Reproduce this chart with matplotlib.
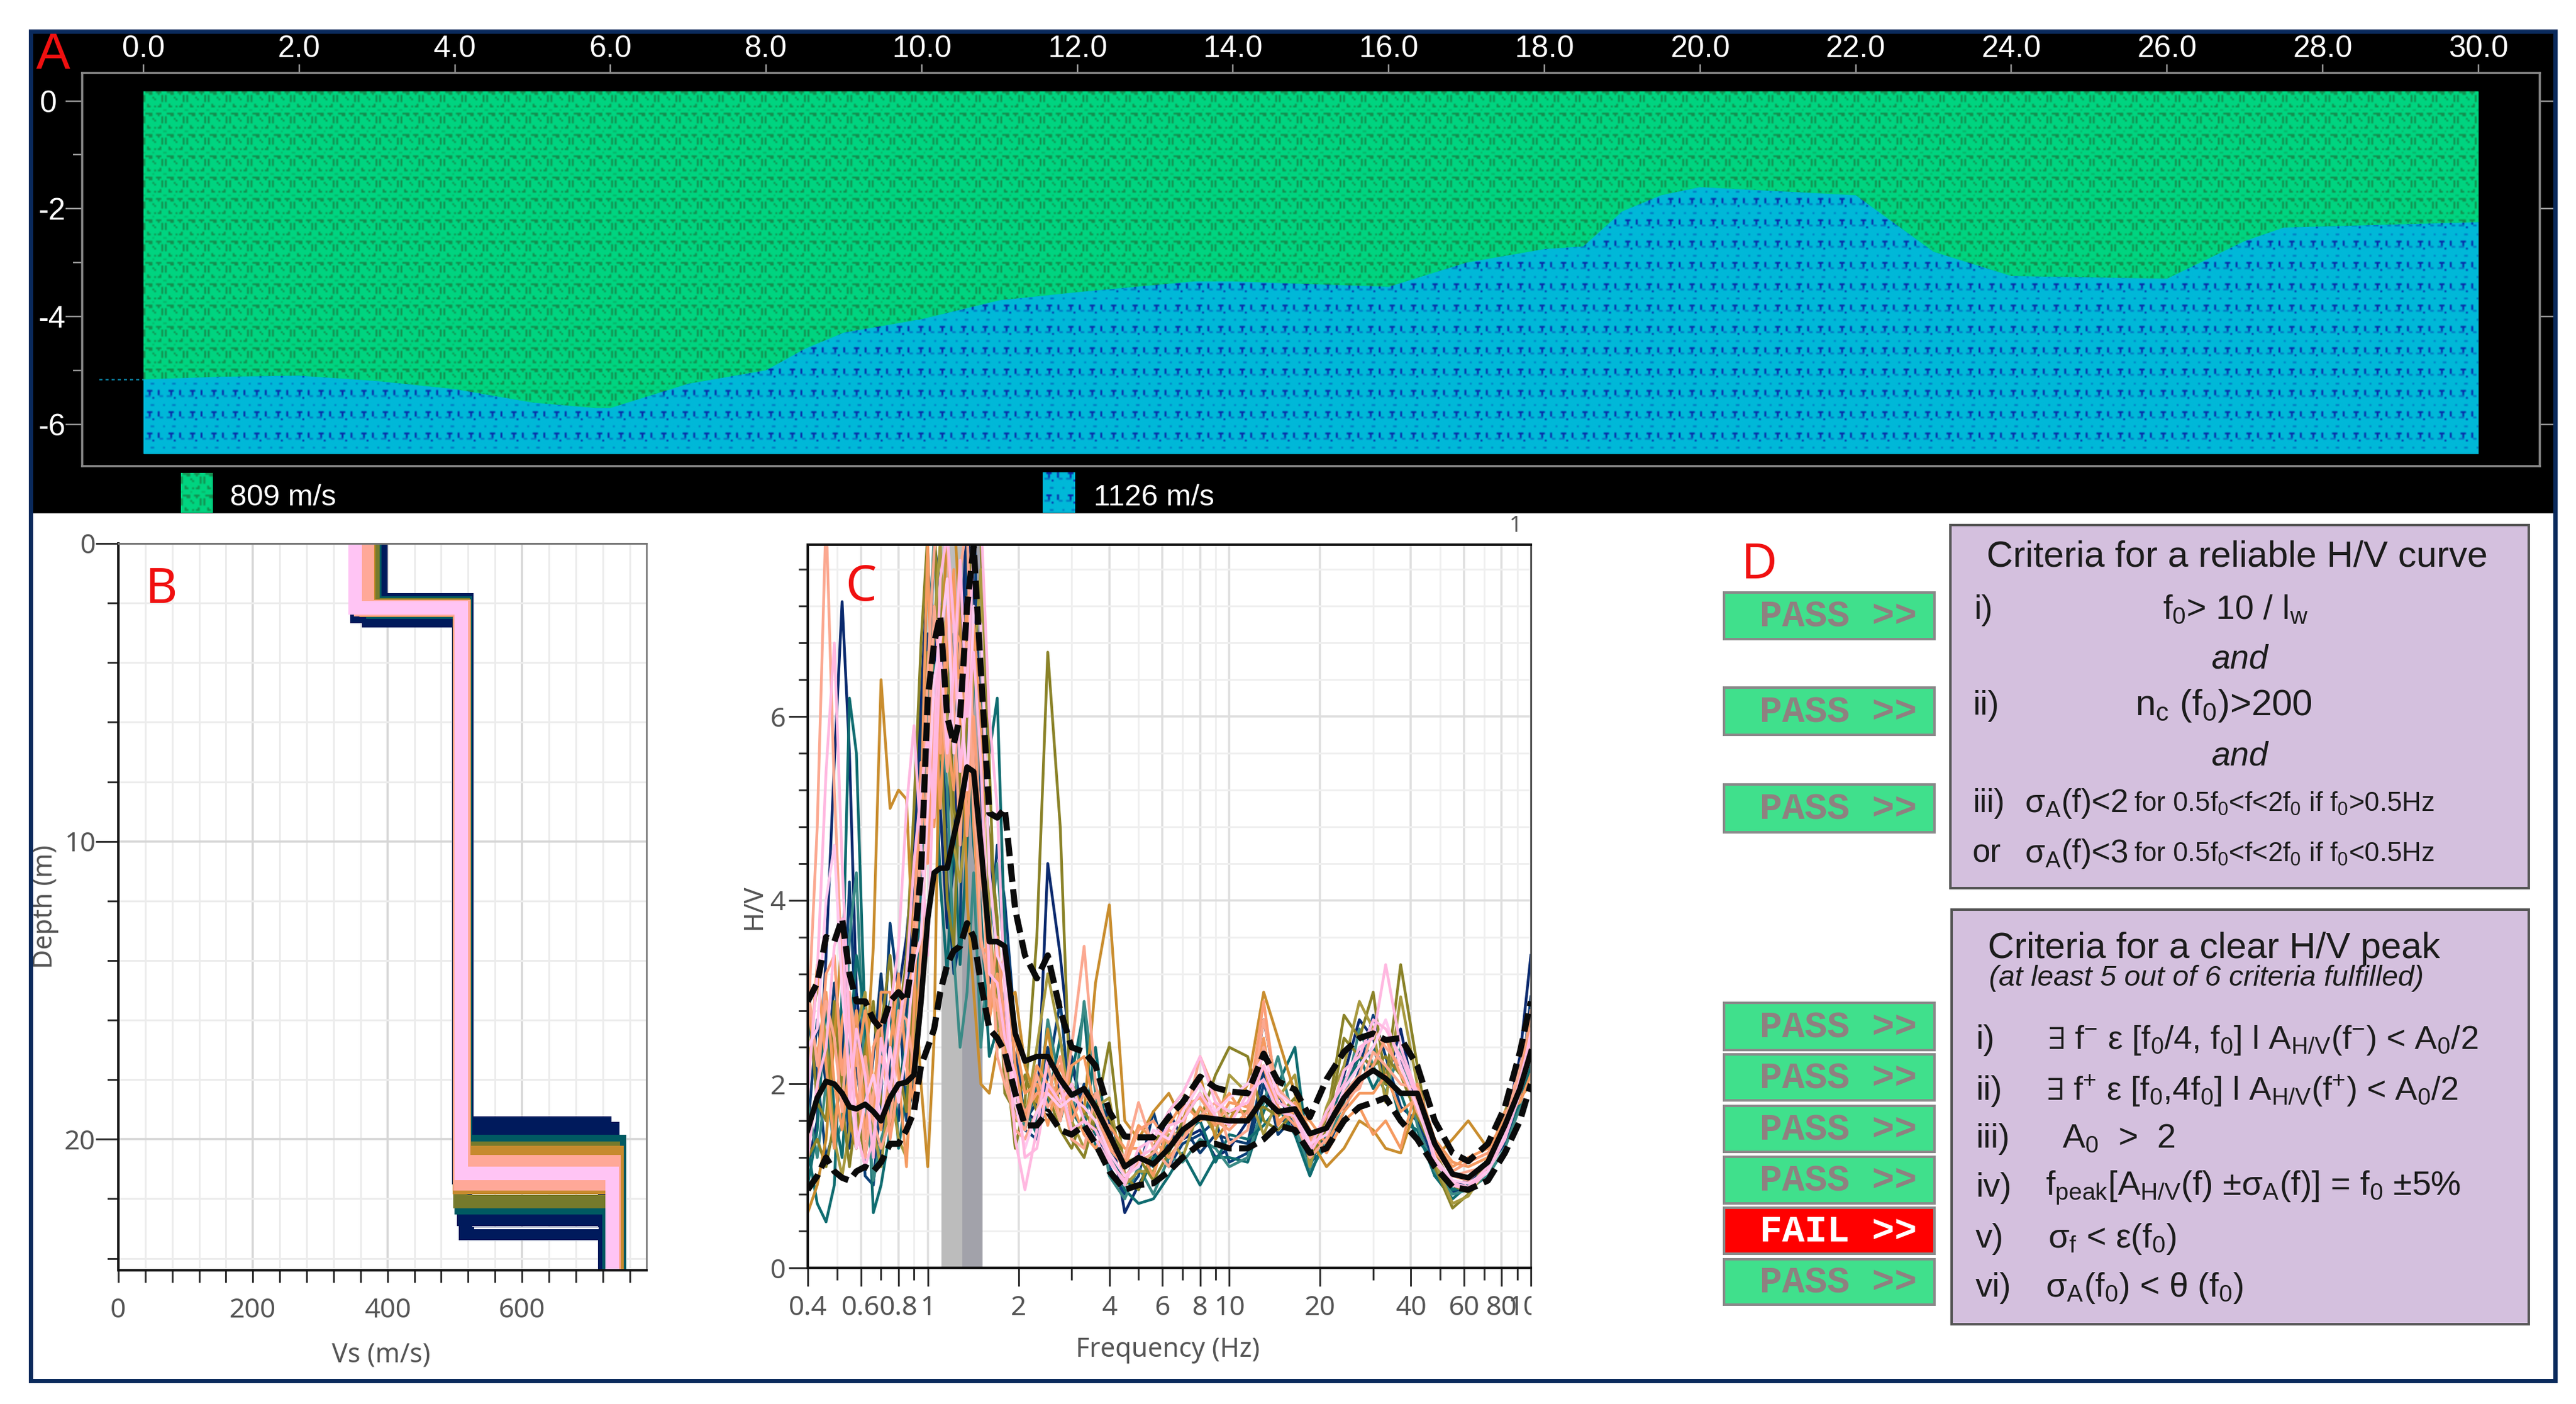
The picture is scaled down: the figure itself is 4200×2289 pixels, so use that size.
import numpy as np
import matplotlib.pyplot as plt
from matplotlib.colors import LinearSegmentedColormap
from matplotlib.patches import Rectangle
from matplotlib.ticker import NullFormatter
from matplotlib.transforms import Bbox

W, H = 4200, 2289

plt.rcParams["font.family"] = ["Liberation Sans", "DejaVu Sans"]
plt.rcParams["mathtext.fontset"] = "dejavusans"
plt.rcParams["mathtext.default"] = "regular"

# ----------------------------------------------------------------------------
# Panel A: seismic section
dist = [0, 1, 2, 3, 4, 5, 5.8, 6, 7, 8, 8.5, 9, 10, 11, 12, 13.5, 14, 16, 17, 18, 18.5,
        19, 19.5, 20, 22, 23, 24, 26, 27, 27.5, 30]
boundary = [-5.17, -5.12, -5.1, -5.2, -5.35, -5.6, -5.7, -5.7, -5.25, -5.0, -4.6, -4.3, -4.05,
            -3.7, -3.55, -3.35, -3.35, -3.45, -3.0, -2.75, -2.7, -2.05, -1.75, -1.6, -1.75,
            -2.8, -3.25, -3.3, -2.6, -2.35, -2.25]
model_top = 0.18
model_bottom = -6.55
water_x = [-0.57, 0.0]
water_y = [-5.17, -5.17]
section_xticks = [0, 2, 4, 6, 8, 10, 12, 14, 16, 18, 20, 22, 24, 26, 28, 30]
section_yticks = [0, -2, -4, -6]
section_minor = [-1, -3, -5]
layer_labels = ["809 m/s", "1126 m/s"]

# Panel B: Vs profiles, one row per model, colour index into profile_colors
vs_top = [390, 385, 370, 355, 372, 381, 378, 378, 372, 372, 368, 370, 360, 352]
vs_mid = [518, 517, 506, 513, 516, 516, 510, 512, 508, 514, 507, 513, 508, 510]
vs_bot = [723, 735, 740, 723, 723, 745, 729, 736, 736, 741, 741, 737, 737, 734]
depth_a = [1.90, 2.60, 2.35, 2.45, 2.60, 2.00, 2.30, 2.05, 2.25, 2.10, 2.25, 2.13, 2.22, 2.17]
depth_b = [19.45, 19.65, 21.3, 22.7, 23.16, 20.07, 22.3, 20.3, 22.1, 20.45, 21.63, 20.75, 21.5, 21.14]
profile_color = [0, 0, 0, 0, 0, 1, 1, 2, 2, 3, 3, 4, 4, 5]
profile_colors = ["#001a5c", "#005a62", "#767a2c", "#c68a2e", "#ffa898", "#ffc4f4"]
gap_vs = [530, 712]
gap_depth = [22.98, 22.98]

# Panel C: H/V curves
freq = [0.40, 0.43, 0.46, 0.49, 0.52, 0.55, 0.58, 0.62, 0.66, 0.70, 0.75, 0.80,
        0.85, 0.90, 0.95, 1.00, 1.05, 1.10, 1.16, 1.22, 1.28, 1.35, 1.42, 1.50,
        1.60, 1.70, 1.80, 1.95, 2.10, 2.30, 2.50, 2.75, 3.00, 3.30, 3.60, 4.00,
        4.50, 5.00, 5.60, 6.30, 7.00, 8.00, 9.00, 10.0, 11.5, 13.0, 14.5, 16.5,
        18.5, 21.0, 24.0, 27.0, 30.0, 33.0, 37.0, 42.0, 48.0, 55.0, 62.0, 72.0,
        82.0, 92.0, 100.0]

hv_mean = [1.50, 1.85, 2.03, 2.00, 1.90, 1.75, 1.73, 1.78, 1.70, 1.60, 1.85, 2.00,
           2.02, 2.10, 2.90, 3.80, 4.30, 4.35, 4.35, 4.70, 5.00, 5.45, 5.40, 4.60,
           3.55, 3.55, 3.50, 2.55, 2.25, 2.30, 2.30, 2.05, 1.88, 1.95, 1.75, 1.45,
           1.10, 1.20, 1.13, 1.30, 1.50, 1.64, 1.62, 1.60, 1.60, 1.85, 1.70, 1.73,
           1.46, 1.52, 1.85, 2.05, 2.15, 2.06, 1.90, 1.90, 1.35, 1.02, 0.98, 1.15,
           1.55, 1.95, 2.35]
hv_upper = [2.90, 3.10, 3.60, 3.55, 3.80, 3.20, 2.90, 2.90, 2.70, 2.60, 2.90, 3.00,
            2.90, 3.50, 4.30, 6.20, 6.80, 7.10, 6.00, 5.70, 6.00, 7.20, 7.85, 6.50,
            4.95, 4.90, 5.00, 3.90, 3.40, 3.15, 3.40, 2.80, 2.40, 2.35, 2.20, 1.70,
            1.43, 1.42, 1.42, 1.64, 1.80, 2.08, 1.96, 1.92, 1.90, 2.33, 2.03, 1.94,
            1.64, 2.05, 2.35, 2.50, 2.55, 2.48, 2.50, 2.20, 1.60, 1.25, 1.16, 1.35,
            1.75, 2.35, 2.90]
hv_lower = [0.85, 1.00, 1.20, 1.05, 0.98, 0.95, 1.05, 1.10, 1.05, 1.15, 1.35, 1.35,
            1.50, 1.70, 2.20, 2.40, 2.60, 3.00, 3.30, 3.45, 3.50, 3.75, 3.60, 3.10,
            2.60, 2.50, 2.35, 1.90, 1.55, 1.55, 1.70, 1.50, 1.45, 1.55, 1.35, 1.05,
            0.85, 0.90, 0.92, 1.05, 1.20, 1.35, 1.35, 1.30, 1.30, 1.40, 1.55, 1.50,
            1.25, 1.30, 1.60, 1.75, 1.80, 1.85, 1.60, 1.40, 1.10, 0.88, 0.85, 0.95,
            1.25, 1.60, 2.00]

win_navy1 = [1.10, 1.60, 3.40, 5.50, 7.25, 5.60, 3.00, 2.10, 1.40, 1.20, 2.30, 3.00,
             3.60, 4.50, 6.20, 7.60, 7.00, 5.00, 3.70, 4.40, 6.50, 8.20, 7.40, 6.00,
             4.60, 3.20, 2.80, 2.10, 1.70, 1.60, 4.40, 3.40, 2.20, 1.70, 1.90, 1.60,
             0.60, 0.90, 1.20, 1.70, 1.40, 1.50, 1.20, 1.30, 1.60, 2.70, 1.90, 1.50,
             1.20, 1.50, 2.10, 2.70, 2.50, 2.00, 2.60, 1.70, 1.10, 0.90, 0.95, 1.15,
             1.50, 2.30, 3.40]
win_navy2 = [2.70, 2.10, 1.20, 1.50, 2.20, 4.20, 2.50, 1.00, 0.90, 1.90, 3.75, 3.00,
             1.60, 2.00, 3.80, 6.00, 7.90, 7.40, 4.20, 3.20, 3.60, 7.90, 8.40, 5.20,
             3.50, 4.60, 4.00, 2.60, 1.50, 1.40, 2.10, 2.90, 1.60, 2.00, 1.55, 1.10,
             0.80, 1.00, 1.70, 1.10, 1.35, 1.45, 1.60, 1.15, 1.25, 2.00, 1.60, 1.60,
             1.15, 1.30, 1.70, 2.15, 2.75, 2.30, 1.75, 1.60, 1.00, 0.85, 0.95, 1.10,
             1.35, 1.85, 2.95]
win_navy3 = [1.50, 2.70, 2.00, 3.10, 2.50, 1.30, 2.20, 1.50, 2.30, 3.20, 2.10, 1.60,
             2.80, 4.10, 5.80, 6.90, 5.20, 6.00, 4.80, 5.90, 7.40, 6.30, 5.60, 4.90,
             3.10, 3.40, 2.70, 2.30, 1.60, 1.80, 2.40, 1.90, 2.30, 1.60, 1.45, 1.75,
             0.95, 1.25, 1.10, 1.35, 1.55, 1.25, 1.45, 1.40, 1.35, 2.15, 1.45, 1.65,
             1.30, 1.40, 2.00, 2.35, 2.15, 2.05, 2.25, 1.65, 1.15, 0.82, 0.90, 1.12,
             1.45, 1.95, 2.65]
win_teal1 = [1.30, 0.70, 0.50, 0.90, 3.00, 6.20, 5.60, 2.60, 0.60, 0.90, 1.50, 1.90,
             2.50, 3.60, 5.00, 7.80, 6.00, 4.20, 3.20, 4.80, 3.30, 4.60, 6.40, 6.20,
             5.60, 6.20, 3.60, 1.70, 1.50, 2.00, 2.20, 1.60, 2.10, 2.80, 1.30, 1.30,
             0.85, 0.70, 0.75, 1.00, 1.25, 0.90, 1.20, 1.20, 1.15, 1.70, 2.00, 2.40,
             1.10, 1.55, 1.90, 2.30, 1.95, 2.20, 1.60, 1.50, 1.00, 0.75, 0.90, 1.05,
             1.40, 1.90, 2.60]
win_teal2 = [1.80, 1.20, 2.00, 1.30, 1.60, 3.60, 4.30, 1.90, 0.95, 1.40, 1.70, 3.10,
             2.60, 2.30, 4.40, 6.30, 8.00, 6.10, 5.20, 3.40, 2.40, 3.00, 4.30, 2.40,
             3.60, 4.40, 3.30, 1.90, 1.55, 1.60, 2.70, 2.00, 1.50, 2.90, 1.90, 1.00,
             0.75, 1.10, 0.80, 1.20, 1.15, 1.40, 1.30, 1.10, 1.20, 1.80, 2.30, 1.55,
             1.05, 1.35, 1.80, 2.60, 2.20, 1.90, 2.40, 1.55, 1.05, 0.80, 0.85, 1.00,
             1.30, 1.75, 2.40]
win_teal3 = [0.90, 1.50, 2.90, 1.70, 1.20, 2.40, 3.40, 2.80, 1.20, 2.20, 2.90, 1.30,
             1.90, 2.90, 4.00, 5.20, 6.60, 5.30, 6.10, 6.90, 5.00, 5.90, 4.60, 3.90,
             2.30, 2.60, 3.00, 2.00, 1.75, 1.45, 1.80, 2.50, 1.70, 1.50, 2.40, 1.20,
             0.95, 0.85, 1.20, 1.30, 1.45, 1.60, 1.15, 1.45, 1.40, 1.55, 1.75, 1.45,
             1.00, 1.45, 2.05, 2.20, 2.40, 2.00, 1.90, 1.40, 1.15, 0.85, 0.88, 1.10,
             1.45, 1.80, 2.20]
win_olive1 = [1.20, 1.40, 1.10, 1.60, 2.10, 1.70, 1.30, 2.40, 2.90, 1.80, 1.50, 2.60,
              3.40, 5.00, 6.80, 8.00, 8.30, 6.00, 4.00, 3.50, 5.40, 7.00, 8.20, 7.90,
              5.50, 3.00, 2.40, 1.30, 1.80, 3.60, 6.70, 4.80, 1.40, 1.20, 1.65, 2.45,
              1.00, 0.85, 1.30, 1.70, 1.90, 1.60, 2.10, 2.40, 2.30, 1.60, 1.50, 1.70,
              1.30, 1.60, 2.75, 2.50, 3.00, 2.00, 3.30, 2.20, 1.10, 0.65, 0.80, 1.20,
              1.60, 2.00, 2.70]
win_olive2 = [2.20, 3.10, 2.50, 1.40, 1.00, 1.50, 2.60, 3.00, 1.50, 1.10, 2.00, 1.40,
              1.20, 2.50, 3.30, 5.50, 7.00, 7.90, 5.80, 4.60, 4.20, 5.00, 6.50, 7.60,
              3.90, 2.60, 2.50, 1.60, 1.60, 2.40, 3.20, 2.50, 1.60, 1.30, 1.75, 1.85,
              0.90, 1.05, 1.05, 1.45, 1.20, 1.75, 1.45, 2.10, 1.90, 1.45, 1.85, 2.10,
              1.10, 1.75, 2.20, 2.90, 2.60, 1.80, 2.95, 2.00, 1.15, 0.70, 0.78, 1.10,
              1.70, 2.10, 2.50]
win_olive3 = [3.00, 1.80, 1.60, 2.90, 1.80, 1.10, 1.70, 1.20, 1.90, 2.60, 3.40, 2.20,
              1.70, 3.10, 4.80, 6.70, 5.60, 7.20, 6.60, 5.00, 4.60, 6.00, 7.00, 5.40,
              4.70, 3.80, 1.90, 1.70, 2.10, 1.70, 1.90, 1.50, 1.30, 1.70, 1.50, 1.65,
              1.15, 1.20, 0.95, 1.25, 1.60, 1.90, 1.55, 1.70, 1.70, 1.75, 1.65, 1.85,
              1.20, 1.50, 2.50, 2.30, 2.20, 2.30, 2.10, 1.65, 1.25, 0.90, 0.82, 1.15,
              1.55, 1.90, 2.40]
win_orange1 = [0.60, 0.90, 1.40, 2.50, 3.60, 1.60, 1.30, 2.00, 3.50, 6.40, 5.00, 5.20,
               5.10, 3.30, 2.00, 1.10, 2.50, 6.50, 8.00, 8.30, 7.00, 4.00, 3.00, 2.00,
               1.90, 2.40, 2.90, 3.00, 2.20, 1.80, 2.60, 1.70, 2.00, 1.70, 3.10, 3.95,
               1.60, 1.40, 1.70, 1.90, 1.60, 2.10, 1.40, 1.60, 2.00, 3.00, 2.50, 1.90,
               1.40, 1.10, 1.30, 1.60, 1.50, 1.30, 1.25, 1.80, 1.20, 1.40, 1.60, 1.30,
               1.50, 1.85, 2.00]
win_orange2 = [2.80, 2.30, 3.00, 2.00, 1.50, 2.20, 2.80, 1.50, 1.70, 3.00, 3.00, 2.10,
               1.10, 2.80, 5.00, 7.90, 4.80, 6.20, 5.80, 5.20, 6.50, 5.10, 7.00, 6.00,
               2.70, 3.20, 2.30, 2.50, 1.90, 2.00, 1.55, 2.20, 1.80, 1.45, 1.30, 1.55,
               1.30, 1.30, 1.00, 1.55, 1.80, 1.60, 1.70, 1.90, 1.60, 2.50, 1.55, 1.80,
               1.50, 1.25, 1.60, 1.75, 1.45, 1.60, 1.30, 2.00, 1.40, 1.15, 1.10, 1.20,
               1.70, 1.80, 2.10]
win_orange3 = [1.90, 3.30, 2.20, 1.30, 2.70, 3.00, 2.20, 2.80, 2.00, 1.50, 2.40, 3.20,
               2.20, 1.80, 3.60, 4.90, 6.20, 5.00, 6.60, 7.60, 5.90, 7.30, 4.80, 3.50,
               3.40, 2.80, 3.50, 2.20, 1.60, 2.20, 2.00, 1.60, 2.20, 2.30, 1.70, 1.35,
               1.15, 1.55, 1.40, 1.20, 1.40, 1.75, 1.55, 1.80, 1.75, 2.20, 1.60, 1.70,
               1.60, 1.35, 1.70, 1.90, 1.90, 2.10, 1.70, 1.85, 1.35, 1.10, 1.20, 1.30,
               1.60, 1.95, 2.30]
win_salmon1 = [2.60, 4.80, 8.20, 5.20, 3.20, 2.00, 1.70, 2.30, 1.60, 1.30, 1.60, 2.40,
               3.00, 3.30, 4.60, 6.50, 7.80, 8.40, 8.00, 6.10, 7.60, 8.10, 5.50, 3.60,
               3.00, 2.90, 2.20, 1.50, 1.40, 1.70, 2.20, 1.60, 2.40, 3.50, 2.00, 1.40,
               1.20, 1.80, 1.30, 1.10, 1.50, 2.30, 1.90, 1.60, 1.60, 2.70, 1.90, 1.60,
               1.20, 1.40, 1.90, 2.10, 2.60, 2.40, 2.20, 1.70, 1.30, 1.00, 1.05, 1.10,
               1.60, 2.20, 2.60]
win_salmon2 = [1.40, 1.90, 3.20, 3.40, 2.10, 2.80, 1.90, 1.40, 2.40, 2.70, 1.40, 2.00,
               2.00, 3.80, 5.50, 4.40, 6.00, 5.60, 7.20, 7.00, 6.80, 4.70, 6.00, 4.70,
               2.80, 3.60, 2.60, 1.90, 1.70, 1.90, 1.90, 2.30, 1.60, 1.90, 1.70, 1.30,
               1.10, 1.50, 1.60, 1.35, 1.75, 1.85, 1.60, 1.50, 1.70, 2.90, 1.75, 1.55,
               1.40, 1.55, 1.75, 2.00, 2.20, 2.50, 2.10, 1.80, 1.25, 1.05, 1.15, 1.25,
               1.50, 2.00, 2.80]
win_salmon3 = [3.10, 2.20, 2.90, 2.50, 1.70, 3.00, 2.40, 1.20, 1.90, 2.30, 1.90, 2.80,
               2.70, 2.20, 3.10, 5.60, 7.20, 6.40, 5.40, 6.20, 4.60, 6.80, 5.00, 4.20,
               3.80, 2.30, 2.00, 1.65, 1.50, 2.10, 1.75, 1.95, 1.40, 1.30, 1.90, 1.50,
               1.00, 1.15, 1.25, 1.50, 1.40, 1.65, 1.80, 1.35, 1.50, 2.40, 1.95, 1.75,
               1.35, 1.65, 1.85, 1.95, 2.35, 2.20, 2.00, 1.95, 1.30, 1.00, 0.95, 1.15,
               1.55, 2.10, 2.45]
win_pink1 = [1.90, 3.20, 5.40, 6.80, 4.40, 2.60, 1.50, 1.10, 1.40, 2.00, 2.80, 3.50,
             5.00, 5.90, 4.60, 3.40, 5.60, 7.50, 8.00, 7.00, 5.40, 6.30, 7.90, 8.20,
             6.00, 5.00, 3.00, 1.40, 0.85, 1.50, 2.30, 2.00, 1.50, 1.60, 1.50, 1.20,
             0.90, 1.30, 1.40, 1.70, 1.90, 2.30, 1.80, 1.70, 1.80, 2.20, 1.80, 1.70,
             1.30, 1.70, 2.00, 2.40, 2.50, 3.30, 2.40, 1.90, 1.20, 0.90, 0.85, 1.05,
             1.40, 1.90, 2.30]
win_pink2 = [2.40, 2.60, 4.00, 4.60, 3.00, 2.10, 1.30, 1.80, 2.10, 1.60, 2.40, 1.80,
             2.40, 3.30, 3.60, 5.00, 6.40, 6.80, 7.50, 5.60, 6.40, 5.20, 7.20, 7.00,
             4.30, 3.40, 3.20, 1.80, 1.30, 1.70, 1.90, 1.75, 1.85, 1.75, 1.60, 1.25,
             1.00, 1.10, 1.50, 1.40, 1.70, 2.00, 1.70, 1.85, 2.00, 2.30, 1.90, 1.75,
             1.35, 1.45, 1.95, 2.20, 2.40, 2.70, 2.20, 1.75, 1.20, 0.95, 0.92, 1.05,
             1.45, 2.00, 2.55]
win_pink3 = [1.20, 2.00, 2.40, 3.50, 3.80, 1.80, 2.60, 2.10, 1.20, 2.50, 1.90, 2.60,
             3.20, 4.40, 5.20, 5.80, 4.90, 6.70, 5.60, 6.50, 7.70, 6.00, 6.70, 5.50,
             3.20, 3.10, 2.50, 2.10, 1.20, 1.30, 2.00, 1.80, 2.00, 1.60, 1.40, 1.15,
             0.95, 1.20, 1.30, 1.55, 1.60, 1.90, 1.65, 1.55, 1.90, 2.05, 1.70, 1.65,
             1.25, 1.55, 2.15, 2.30, 2.70, 2.60, 2.30, 1.85, 1.15, 0.92, 0.88, 1.10,
             1.40, 2.05, 2.50]

windows = [win_navy1, win_navy2, win_navy3, win_teal1, win_teal2, win_teal3,
           win_olive1, win_olive2, win_olive3, win_orange1, win_orange2, win_orange3,
           win_salmon1, win_salmon2, win_salmon3, win_pink1, win_pink2, win_pink3]
window_colors = ["#0a2a6e", "#0a3f78", "#0a3a70", "#0f6c70", "#3a8a86", "#0f6c70",
                 "#8a8228", "#a89a40", "#8a8228", "#c98d2e", "#f59a60", "#f59a60",
                 "#fba890", "#fb9e78", "#fba890", "#ffb8e0", "#ffc8ee", "#ffb8e0"]
peak_low = [1.11, 1.30]
peak_high = [1.30, 1.52]
peak_colors = ["#bcbcbc", "#a2a2aa"]
hv_major = [0.4, 0.6, 0.8, 1, 2, 4, 6, 8, 10, 20, 40, 60, 80, 100]
hv_major_labels = ["0.4", "0.6", "0.8", "1", "2", "4", "6", "8", "10", "20", "40", "60", "80", "100"]
hv_minor = [0.5, 0.7, 0.9, 3, 5, 7, 9, 30, 50, 70, 90]

# Panel D: pass/fail column
button_tops = [966, 1121, 1279, 1635, 1719, 1803, 1886, 1969, 2053]
button_bottoms = [1042, 1198, 1357, 1712, 1794, 1878, 1962, 2044, 2127]
button_status = ["PASS", "PASS", "PASS", "PASS", "PASS", "PASS", "PASS", "FAIL", "PASS"]

# Texture tiles for the section fill
green_tile = [".xxxx..xxx..",
              "...xx...x...",
              "x.........x.",
              "x....x....x.",
              "x.....x...x.",
              "x.........x.",
              "............",
              "..x......x..",
              "..xx..x.xx..",
              "............",
              "o....o.....o",
              "............"]
blue_tile = ["..xxx...x...",
             "...x....x...",
             "...x....x...",
             ".ooo.....oo.",
             ".....x......",
             "............",
             "............",
             "............",
             "....oo.....o",
             "............",
             "............",
             "............"]

# ----------------------------------------------------------------------------


def axes_px(left, top, right, bottom):
    return fig.add_axes([left / W, 1 - bottom / H, (right - left) / W, (bottom - top) / H])


def ftext(x, y, s, **kw):
    kw.setdefault("va", "center")
    return fig.text(x / W, 1 - y / H, s, **kw)


def frect(left, top, right, bottom, **kw):
    r = Rectangle((left / W, 1 - bottom / H), (right - left) / W, (bottom - top) / H,
                  transform=fig.transFigure, **kw)
    fig.add_artist(r)
    return r


def tile_array(tile, ny, nx):
    arr = np.array([[{".": 0.0, "o": 0.45, "x": 1.0}[c] for c in row] for row in tile])
    return np.tile(arr, (ny, nx))


def px(n):
    return n * 0.72


green_cmap = LinearSegmentedColormap.from_list("green", ["#00d480", "#148f50"])
blue_cmap = LinearSegmentedColormap.from_list("blue", ["#00b8d8", "#0a2aa8"])

fig = plt.figure(figsize=(W / 100, H / 100), dpi=100, facecolor="white")

frect(50, 50, 4165, 837, facecolor="black", edgecolor="none", zorder=-2)
frect(50, 51, 4166, 2251, facecolor="none", edgecolor="#0a2a5c", linewidth=px(7), zorder=6)

# ----------------------------------------------------------------------------
# A
ax_a = axes_px(134, 119, 4141, 760)
ax_a.set_facecolor("black")
poly_top = ax_a.fill_between(dist, boundary, model_top, color="#00d480", linewidth=0)
poly_bot = ax_a.fill_between(dist, model_bottom, boundary, color="#00b8d8", linewidth=0)
im = ax_a.imshow(tile_array(green_tile, 17, 109), extent=[0, 30, model_bottom, model_top],
                 aspect="auto", cmap=green_cmap, vmin=0, vmax=1, interpolation="bilinear", zorder=1.5)
im.set_clip_path(poly_top.get_paths()[0], transform=ax_a.transData)
im = ax_a.imshow(tile_array(blue_tile, 17, 109), extent=[0, 30, model_bottom, model_top],
                 aspect="auto", cmap=blue_cmap, vmin=0, vmax=1, interpolation="bilinear", zorder=1.5)
im.set_clip_path(poly_bot.get_paths()[0], transform=ax_a.transData)
ax_a.plot(water_x, water_y, color="#0a7a9a", linewidth=px(2.5), linestyle=(0, (2, 2)))
ax_a.set_xlim(-0.788, 30.79)
ax_a.set_ylim(-6.78, 0.52)
ax_a.xaxis.tick_top()
ax_a.set_xticks(section_xticks, [f"{v:.1f}" for v in section_xticks])
ax_a.set_yticks(section_yticks, ["0 ", "-2", "-4", "-6"])
ax_a.set_yticks(section_minor, minor=True)
ax_a.tick_params(axis="x", colors="#9a9a9a", labelcolor="white", labelsize=36, length=px(14),
                 width=px(2.5), pad=px(2))
ax_a.tick_params(axis="y", which="major", right=True, colors="#9a9a9a", labelcolor="white",
                 labelsize=36, length=px(27), width=px(2.5), pad=0)
ax_a.tick_params(axis="y", which="minor", colors="#9a9a9a", length=px(15), width=px(2.5))
for s in ax_a.spines.values():
    s.set_color("#8a8a8a")
    s.set_linewidth(px(3.5))

sw = axes_px(295, 771, 346, 836)
sw.imshow(tile_array(green_tile, 2, 2)[:22, :17], aspect="auto", cmap=green_cmap, vmin=0, vmax=1,
          interpolation="bilinear")
sw.axis("off")
sw = axes_px(1700, 770, 1753, 836)
sw.imshow(tile_array(blue_tile, 2, 2)[:22, :18], aspect="auto", cmap=blue_cmap, vmin=0, vmax=1,
          interpolation="bilinear")
sw.axis("off")
ftext(375, 811, layer_labels[0], color="white", fontsize=35)
ftext(1783, 811, layer_labels[1], color="white", fontsize=35)
ftext(87, 90, "A", color="#f01010", fontsize=60, ha="center")

# ----------------------------------------------------------------------------
# B
ax_b = axes_px(193, 886, 1054, 2071)
for i in range(len(vs_top)):
    ax_b.plot([vs_top[i], vs_top[i], vs_mid[i], vs_mid[i], vs_bot[i], vs_bot[i]],
              [0, depth_a[i], depth_a[i], depth_b[i], depth_b[i], 25],
              color=profile_colors[profile_color[i]], linewidth=px(22),
              solid_joinstyle="miter", solid_capstyle="butt")
ax_b.plot(gap_vs, gap_depth, color="white", linewidth=px(3))
ax_b.set_xlim(0, 785)
ax_b.set_ylim(24.4, 0)
ax_b.set_xticks([0, 200, 400, 600])
ax_b.set_xticks(np.arange(40, 785, 40), minor=True)
ax_b.set_yticks([0, 10, 20])
ax_b.set_yticks(np.arange(2, 25, 2), minor=True)
ax_b.grid(which="major", color="#d6d6d6", linewidth=px(3.5))
ax_b.grid(which="minor", color="#ececec", linewidth=px(3))
ax_b.set_axisbelow(True)
ax_b.tick_params(axis="x", which="both", length=px(20), width=px(3), color="#333333",
                 labelcolor="#555555", labelsize=32, pad=px(24))
ax_b.tick_params(axis="y", which="major", length=px(37), width=px(3), color="#333333",
                 labelcolor="#555555", labelsize=32, pad=0)
ax_b.tick_params(axis="y", which="minor", length=px(18), width=px(3), color="#333333")
for lab in ax_b.get_xticklabels() + ax_b.get_yticklabels():
    lab.set_family(["Noto Sans", "DejaVu Sans"])
ax_b.spines["left"].set_color("#111111")
ax_b.spines["bottom"].set_color("#111111")
ax_b.spines["left"].set_linewidth(px(4))
ax_b.spines["bottom"].set_linewidth(px(4))
ax_b.spines["top"].set_color("#777777")
ax_b.spines["right"].set_color("#888888")
ax_b.spines["top"].set_linewidth(px(3))
ax_b.spines["right"].set_linewidth(px(3))
ftext(74, 1478, "Depth (m)", rotation=90, ha="center", color="#555555", fontsize=31,
      family=["Noto Sans", "DejaVu Sans"])
ftext(621, 2210, "Vs (m/s)", ha="center", color="#555555", fontsize=31,
      family=["Noto Sans", "DejaVu Sans"])
ftext(262, 962, "B", color="#f01010", fontsize=58, ha="center", family=["Noto Sans", "DejaVu Sans"])

# ----------------------------------------------------------------------------
# C
ax_c = axes_px(1317, 888, 2496, 2067)
ax_c.set_xscale("log")
for lo, hi, c in zip(peak_low, peak_high, peak_colors):
    ax_c.axvspan(lo, hi, color=c, linewidth=0, zorder=1)
for vals, c in zip(windows, window_colors):
    ax_c.plot(freq, vals, color=c, linewidth=px(4.5), zorder=2)
ax_c.plot(freq, hv_mean, color="#0a0a0a", linewidth=px(9), zorder=4)
ax_c.plot(freq, hv_upper, color="#0a0a0a", linewidth=px(10), dashes=(3.0, 1.2), zorder=4)
ax_c.plot(freq, hv_lower, color="#0a0a0a", linewidth=px(10), dashes=(3.0, 1.2), zorder=4)
ax_c.set_xlim(0.4, 100)
ax_c.set_ylim(0, 7.87)
ax_c.set_xticks(hv_major, hv_major_labels)
ax_c.set_xticks(hv_minor, minor=True)
ax_c.xaxis.set_minor_formatter(NullFormatter())
ax_c.set_yticks([0, 2, 4, 6])
ax_c.set_yticks(np.arange(0.4, 7.8, 0.4), minor=True)
ax_c.grid(which="major", color="#dedede", linewidth=px(3.5), zorder=0)
ax_c.grid(which="minor", color="#efefef", linewidth=px(3), zorder=0)
ax_c.set_axisbelow(True)
ax_c.tick_params(axis="x", which="major", length=px(30), width=px(3), color="#333333",
                 labelcolor="#555555", labelsize=32, pad=px(14))
ax_c.tick_params(axis="x", which="minor", length=px(20), width=px(3), color="#333333")
ax_c.tick_params(axis="y", which="major", length=px(31), width=px(3), color="#333333",
                 labelcolor="#555555", labelsize=32, pad=px(5))
ax_c.tick_params(axis="y", which="minor", length=px(15), width=px(3), color="#333333")
for lab in ax_c.get_xticklabels() + ax_c.get_yticklabels():
    lab.set_family(["Noto Sans", "DejaVu Sans"])
# the last frequency label is cut off at the plot edge
last = ax_c.get_xticklabels()[-1]
last.set_clip_box(Bbox([[0, 0], [2497, H]]))
last.set_clip_on(True)
for side in ["left", "bottom", "top"]:
    ax_c.spines[side].set_color("#111111")
    ax_c.spines[side].set_linewidth(px(4))
ax_c.spines["right"].set_color("#555555")
ax_c.spines["right"].set_linewidth(px(3))
ftext(1230, 1478, "H/V", rotation=90, ha="center", color="#555555", fontsize=31,
      family=["Noto Sans", "DejaVu Sans"])
ftext(1904, 2201, "Frequency (Hz)", ha="center", color="#555555", fontsize=31,
      family=["Noto Sans", "DejaVu Sans"])
ftext(2471, 858, "1", ha="center", color="#555555", fontsize=26,
      family=["Noto Sans", "DejaVu Sans"])
ftext(1404, 958, "C", color="#f01010", fontsize=58, ha="center", family=["Noto Sans", "DejaVu Sans"])

# ----------------------------------------------------------------------------
# D
ftext(2868, 922, "D", color="#f01010", fontsize=58, ha="center", family=["Noto Sans", "DejaVu Sans"])
for top, bottom, status in zip(button_tops, button_bottoms, button_status):
    failed = status == "FAIL"
    frect(2811, top, 3154, bottom, facecolor="#ff0000" if failed else "#40e08c",
          edgecolor="#8a8a8a", linewidth=px(4))
    ftext(2869, (top + bottom) / 2 + 2, status + " >>", color="white" if failed else "#8f8080",
          fontsize=44, weight="bold", family=["Liberation Mono", "DejaVu Sans Mono"])

frect(3180, 856, 4123, 1448, facecolor="#d4c0de", edgecolor="#555555", linewidth=px(4))
frect(3182, 1483, 4123, 2159, facecolor="#d4c0de", edgecolor="#555555", linewidth=px(4))

box_color = "#1c1c1c"
ftext(3239, 908, "Criteria for a reliable H/V curve", color=box_color, fontsize=43)
ftext(3218, 995, "i)", color=box_color, fontsize=40)
ftext(3645, 995, "f$_0$> 10 / l$_w$", color=box_color, fontsize=40, ha="center")
ftext(3652, 1075, "and", color=box_color, fontsize=40, ha="center", style="italic")
ftext(3216, 1151, "ii)", color=box_color, fontsize=40)
ftext(3625, 1151, "n$_c$ (f$_0$)>200", color=box_color, fontsize=43, ha="center")
ftext(3652, 1233, "and", color=box_color, fontsize=40, ha="center", style="italic")
ftext(3216, 1310, "iii)", color=box_color, fontsize=38)
ftext(3301, 1310, "σ$_A$(f)<2", color=box_color, fontsize=38)
ftext(3479, 1310, "for 0.5f$_0$<f<2f$_0$ if f$_0$>0.5Hz", color=box_color, fontsize=31.5)
ftext(3216, 1392, "or", color=box_color, fontsize=38)
ftext(3301, 1392, "σ$_A$(f)<3", color=box_color, fontsize=38)
ftext(3479, 1392, "for 0.5f$_0$<f<2f$_0$ if f$_0$<0.5Hz", color=box_color, fontsize=31.5)

ftext(3241, 1547, "Criteria for a clear H/V peak", color=box_color, fontsize=43)
ftext(3243, 1595, "(at least 5 out of 6 criteria fulfilled)", color=box_color, fontsize=34,
      style="italic")
ftext(3221, 1696, "i)", color=box_color, fontsize=40)
ftext(3337, 1696, r"$\exists$ f$^{-}$ ε [f$_0$/4, f$_0$] l A$_{H/V}$(f$^{-}$) < A$_0$/2",
      color=box_color, fontsize=39)
ftext(3221, 1779, "ii)", color=box_color, fontsize=40)
ftext(3335, 1779, r"$\exists$ f$^{+}$ ε [f$_0$,4f$_0$] l A$_{H/V}$(f$^{+}$) < A$_0$/2",
      color=box_color, fontsize=39)
ftext(3221, 1857, "iii)", color=box_color, fontsize=40)
ftext(3362, 1857, "A$_0$  >  2", color=box_color, fontsize=40)
ftext(3221, 1937, "iv)", color=box_color, fontsize=40)
ftext(3335, 1937, "f$_{peak}$[A$_{H/V}$(f) ±σ$_A$(f)] = f$_0$ ±5%", color=box_color, fontsize=40)
ftext(3221, 2020, "v)", color=box_color, fontsize=40)
ftext(3339, 2020, "σ$_f$ < ε(f$_0$)", color=box_color, fontsize=40)
ftext(3221, 2100, "vi)", color=box_color, fontsize=40)
ftext(3335, 2100, "σ$_A$(f$_0$) < θ (f$_0$)", color=box_color, fontsize=40)

fig.savefig("out.png", dpi=100)
